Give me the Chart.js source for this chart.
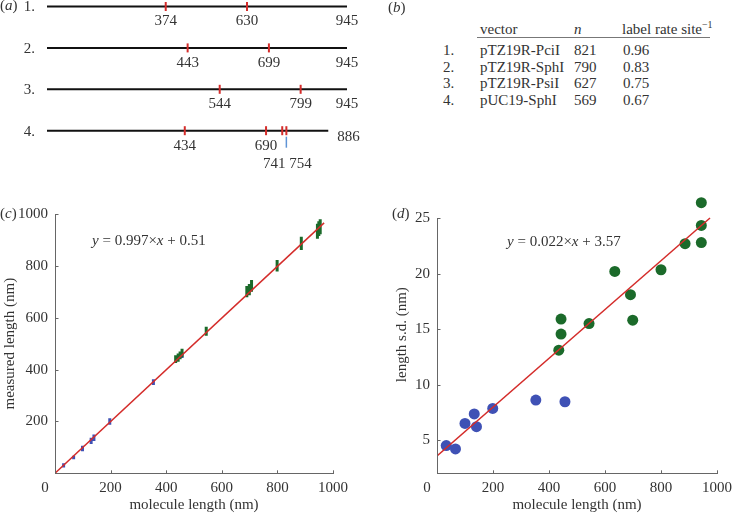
<!DOCTYPE html>
<html>
<head>
<meta charset="utf-8">
<script src="https://cdn.jsdelivr.net/npm/chart.js@4.4.0/dist/chart.umd.min.js"></script>
<style>
body { margin: 0; background: #fff; width: 738px; height: 513px; overflow: hidden; position: relative;
       font-family: "Liberation Serif", serif; color: #333; }
canvas { position: absolute; }
.t { position: absolute; font-size: 15px; line-height: 17px; white-space: nowrap; }
</style>
</head>
<body>
<canvas id="chartA" width="380" height="172" style="left:0;top:0"></canvas>
<canvas id="chartC" width="365" height="333" style="left:0;top:180px"></canvas>
<canvas id="chartD" width="368" height="333" style="left:370px;top:180px"></canvas>

<div class="t" style="left:0;top:-3px">(<i>a</i>)</div>
<div class="t" style="left:388px;top:-1px">(<i>b</i>)</div>
<div class="t" style="left:0;top:205px">(<i>c</i>)</div>
<div class="t" style="left:392px;top:205px">(<i>d</i>)</div>
<div class="t" style="left:92px;top:232px"><i>y</i> = 0.997×<i>x</i> + 0.51</div>
<div class="t" style="left:507px;top:233px"><i>y</i> = 0.022×<i>x</i> + 3.57</div>
<div id="tbl"></div>

<script>
// (a) restriction maps
const rowLabels = ['1.', '2.', '3.', '4.'];
const vectorLen = [945, 945, 945, 886];
const siteRows = [[374, 630], [443, 699], [544, 799], [434, 690, 741, 754]];
const closePair = [741, 754];
const blueMark = 754;

// (b) table
const vectorNames = ['pTZ19R-PciI', 'pTZ19R-SphI', 'pTZ19R-PsiI', 'pUC19-SphI'];
const nCounts = [821, 790, 627, 569];
const labelRates = ['0.96', '0.83', '0.75', '0.67'];

// shared axis ticks for (c) and (d)
const xTicks = [0, 200, 400, 600, 800, 1000];
const yTicksC = [200, 400, 600, 800, 1000];
const yTicksD = [5, 10, 15, 20, 25];

// (c) measured length ranges
const blueLenC = [31, 67, 99, 130, 140, 197, 354, 457];
const blueLoC = [22, 54, 85, 113, 125, 187, 341, 445];
const blueHiC = [39, 68, 106, 137, 150, 212, 363, 468];
const greenLenC = [434, 443, 450, 457, 544, 690, 699, 707, 799, 886, 944, 949, 954];
const greenLoC = [425, 430, 440, 448, 530, 679, 687, 700, 778, 861, 905, 915, 922];
const greenHiC = [455, 462, 470, 480, 565, 722, 730, 745, 823, 912, 962, 972, 980];
const fitXC = [0, 968];
const fitYC = [0.51, 965.6];

// (d) length s.d.
const blueLenD = [33, 66, 100, 133, 141, 199, 353, 457];
const blueSdD = [4.5, 4.2, 6.5, 7.35, 6.2, 7.85, 8.6, 8.45];
const greenLenD = [435, 443, 443, 543, 635, 691, 699, 800, 886, 944, 944, 944];
const greenSdD = [13.1, 14.55, 15.9, 15.5, 20.2, 18.1, 15.8, 20.35, 22.7, 26.4, 24.35, 22.8];
const fitXD = [0, 975];
const fitYD = [3.57, 25.02];

const FONT = '"Liberation Serif", serif';
const TEXT = '#333';
const AXIS = '#666';
const RED = '#d42c2a';
const BLUE = '#3f51b5';
const GREEN = '#1b6a2a';

Chart.defaults.font.family = FONT;
Chart.defaults.font.size = 15;
Chart.defaults.color = TEXT;

/* ================= TABLE (b) ================= */
const tbl = document.getElementById('tbl');
const colX = [443, 480, 574, 623];
function cell(html, x, cy) {
    const d = document.createElement('div');
    d.className = 't';
    d.style.left = x + 'px';
    d.style.top = (cy - 8.5) + 'px';
    d.innerHTML = html;
    tbl.appendChild(d);
}
cell('vector', colX[1], 29);
cell('<i>n</i>', colX[2], 29);
cell('label rate site<sup style="font-size:10px;line-height:0">−1</sup>', colX[3] - 1, 29);
const rule = document.createElement('div');
rule.style.cssText = 'position:absolute;left:477px;top:37px;width:233px;border-top:1.5px solid #777';
tbl.appendChild(rule);
vectorNames.forEach((name, i) => {
    const cy = 50.7 + i * 16.5;
    cell(rowLabels[i], colX[0], cy);
    cell(name, colX[1], cy);
    cell(nCounts[i], colX[2], cy);
    cell(labelRates[i], colX[3], cy);
});

/* ================= MAPS (a) ================= */
const mapLabels = {
    id: 'mapLabels',
    afterDatasetsDraw(chart) {
        const { ctx, scales: { x, y } } = chart;
        ctx.save();
        ctx.font = '15px ' + FONT;
        ctx.fillStyle = TEXT;
        ctx.textBaseline = 'middle';
        rowLabels.forEach((lab, i) => {
            const py = y.getPixelForValue(i + 1);
            ctx.textAlign = 'right';
            ctx.fillText(lab, x.left - 12, py + 1);
            ctx.textAlign = 'center';
            siteRows[i].forEach(s => {
                if (i === 3 && closePair.includes(s)) return;
                ctx.fillText(String(s), x.getPixelForValue(s), py + 15);
            });
            const endPx = x.getPixelForValue(vectorLen[i]);
            if (i === 3) {
                ctx.textAlign = 'left';
                ctx.fillText(String(vectorLen[i]), endPx + 9, py + 6);
                ctx.textAlign = 'center';
                const mid = (x.getPixelForValue(closePair[0]) + x.getPixelForValue(closePair[1])) / 2;
                ctx.fillText(closePair[0] + ' ' + closePair[1], mid + 3, py + 33);
                // blue mark under the pair
                const bx = x.getPixelForValue(blueMark);
                ctx.strokeStyle = '#5f94d6';
                ctx.lineWidth = 1.5;
                ctx.beginPath();
                ctx.moveTo(bx, py + 6);
                ctx.lineTo(bx, py + 17);
                ctx.stroke();
            } else {
                ctx.fillText(String(vectorLen[i]), endPx, py + 15);
            }
        });
        ctx.restore();
    }
};

const mapDatasets = vectorLen.map((len, i) => ({
    type: 'line',
    data: [{ x: 0, y: i + 1 }, { x: len, y: i + 1 }],
    borderColor: '#111',
    borderWidth: 2,
    pointRadius: 0,
    clip: false
}));
mapDatasets.unshift({
    type: 'scatter',
    data: siteRows.flatMap((row, i) => row.map(s => ({ x: s, y: i + 1 }))),
    pointStyle: 'line',
    rotation: 90,
    radius: 4.5,
    borderColor: RED,
    borderWidth: 2,
    clip: false
});

new Chart(document.getElementById('chartA'), {
    type: 'scatter',
    data: { datasets: mapDatasets },
    options: {
        responsive: false,
        animation: false,
        layout: { padding: { left: 47, right: 33, top: 6, bottom: 41.3 } },
        plugins: { legend: { display: false }, tooltip: { enabled: false } },
        scales: {
            x: { type: 'linear', min: 0, max: 945, display: false },
            y: { type: 'linear', min: 1, max: 4, reverse: true, display: false }
        }
    },
    plugins: [mapLabels]
});

/* ================= AXES HELPERS ================= */
// MATLAB-like axes: inward ticks, y axis line only up to the last tick, "0" set off to the left
const matlabAxes = {
    id: 'matlabAxes',
    afterDraw(chart) {
        const { ctx, scales: { x, y } } = chart;
        const yTicks = y.ticks.map(t => t.value);
        ctx.save();
        ctx.strokeStyle = AXIS;
        ctx.lineWidth = 1;
        ctx.beginPath();
        const ax = Math.round(y.right) + 0.5;
        ctx.moveTo(ax, y.getPixelForValue(y.min));
        ctx.lineTo(ax, Math.round(y.getPixelForValue(yTicks[yTicks.length - 1])));
        x.ticks.forEach(t => {
            const px = Math.round(x.getPixelForValue(t.value)) + 0.5;
            ctx.moveTo(px, x.top);
            ctx.lineTo(px, x.top - 3);
        });
        yTicks.forEach(v => {
            const py = Math.round(y.getPixelForValue(v)) + 0.5;
            ctx.moveTo(ax, py);
            ctx.lineTo(ax + 3, py);
        });
        ctx.stroke();
        ctx.font = '15px ' + FONT;
        ctx.fillStyle = TEXT;
        ctx.textAlign = 'center';
        ctx.textBaseline = 'middle';
        ctx.fillText('0', x.getPixelForValue(0) - 10, x.top + 15);
        ctx.restore();
    }
};

function xAxis() {
    return {
        type: 'linear', min: 0, max: 1000,
        afterBuildTicks: s => { s.ticks = xTicks.map(v => ({ value: v })); },
        afterFit: s => { s.height = 39.7; },
        grid: { display: false, drawTicks: false },
        border: { display: true, color: AXIS, width: 1 },
        ticks: { padding: 6, color: TEXT, callback: v => v === 0 ? '' : String(v) },
        title: { display: true, text: 'molecule length (nm)', color: TEXT, font: { size: 15, lineHeight: 1 }, padding: 0 }
    };
}

function yAxis(min, max, ticks, width, title) {
    return {
        type: 'linear', min: min, max: max,
        afterBuildTicks: s => { s.ticks = ticks.map(v => ({ value: v })); },
        afterFit: s => { s.width = width; },
        grid: { display: false, drawTicks: false },
        border: { display: false },
        ticks: { padding: 7, color: TEXT, callback: v => String(v) },
        title: { display: true, text: title, color: TEXT, font: { size: 15 }, padding: { top: 1, bottom: 0 } }
    };
}

function rangeBars(xs, lo, hi) {
    const pts = [];
    xs.forEach((x, i) => {
        pts.push({ x: x, y: lo[i] }, { x: x, y: hi[i] }, { x: x, y: null });
    });
    return pts;
}

function pairs(xs, ys) {
    return xs.map((x, i) => ({ x: x, y: ys[i] }));
}

/* ================= (c) ================= */
new Chart(document.getElementById('chartC'), {
    type: 'scatter',
    data: {
        datasets: [
            { type: 'line', data: pairs(fitXC, fitYC), borderColor: RED, borderWidth: 1.5, pointRadius: 0, order: 0 },
            { type: 'line', data: rangeBars(greenLenC, greenLoC, greenHiC), borderColor: GREEN, borderWidth: 3,
              pointRadius: 0, spanGaps: false, borderCapStyle: 'butt', order: 1 },
            { type: 'line', data: rangeBars(blueLenC, blueLoC, blueHiC), borderColor: BLUE, borderWidth: 3,
              pointRadius: 0, spanGaps: false, borderCapStyle: 'butt', order: 2 }
        ]
    },
    options: {
        responsive: false,
        animation: false,
        layout: { padding: { left: 0, right: 32, top: 34, bottom: 0 } },
        plugins: { legend: { display: false }, tooltip: { enabled: false } },
        scales: {
            x: xAxis(),
            y: yAxis(0, 1000, yTicksC, 55, 'measured length (nm)')
        }
    },
    plugins: [matlabAxes]
});

/* ================= (d) ================= */
// y range runs past the top tick (25) so the 26.4 point stays inside the plot area
new Chart(document.getElementById('chartD'), {
    type: 'scatter',
    data: {
        datasets: [
            { type: 'line', data: pairs(fitXD, fitYD), borderColor: RED, borderWidth: 1.5, pointRadius: 0, order: 0 },
            { data: pairs(greenLenD, greenSdD), backgroundColor: GREEN, borderColor: GREEN, pointRadius: 5.5,
              borderWidth: 0, clip: false, order: 1 },
            { data: pairs(blueLenD, blueSdD), backgroundColor: BLUE, borderColor: BLUE, pointRadius: 5.5,
              borderWidth: 0, clip: false, order: 2 }
        ]
    },
    options: {
        responsive: false,
        animation: false,
        layout: { padding: { left: 22, right: 15.3, top: 9.6, bottom: 0 } },
        plugins: { legend: { display: false }, tooltip: { enabled: false } },
        scales: {
            x: xAxis(),
            y: yAxis(2, 27, yTicksD, 45, 'length s.d. (nm)')
        }
    },
    plugins: [matlabAxes]
});
</script>
</body>
</html>
